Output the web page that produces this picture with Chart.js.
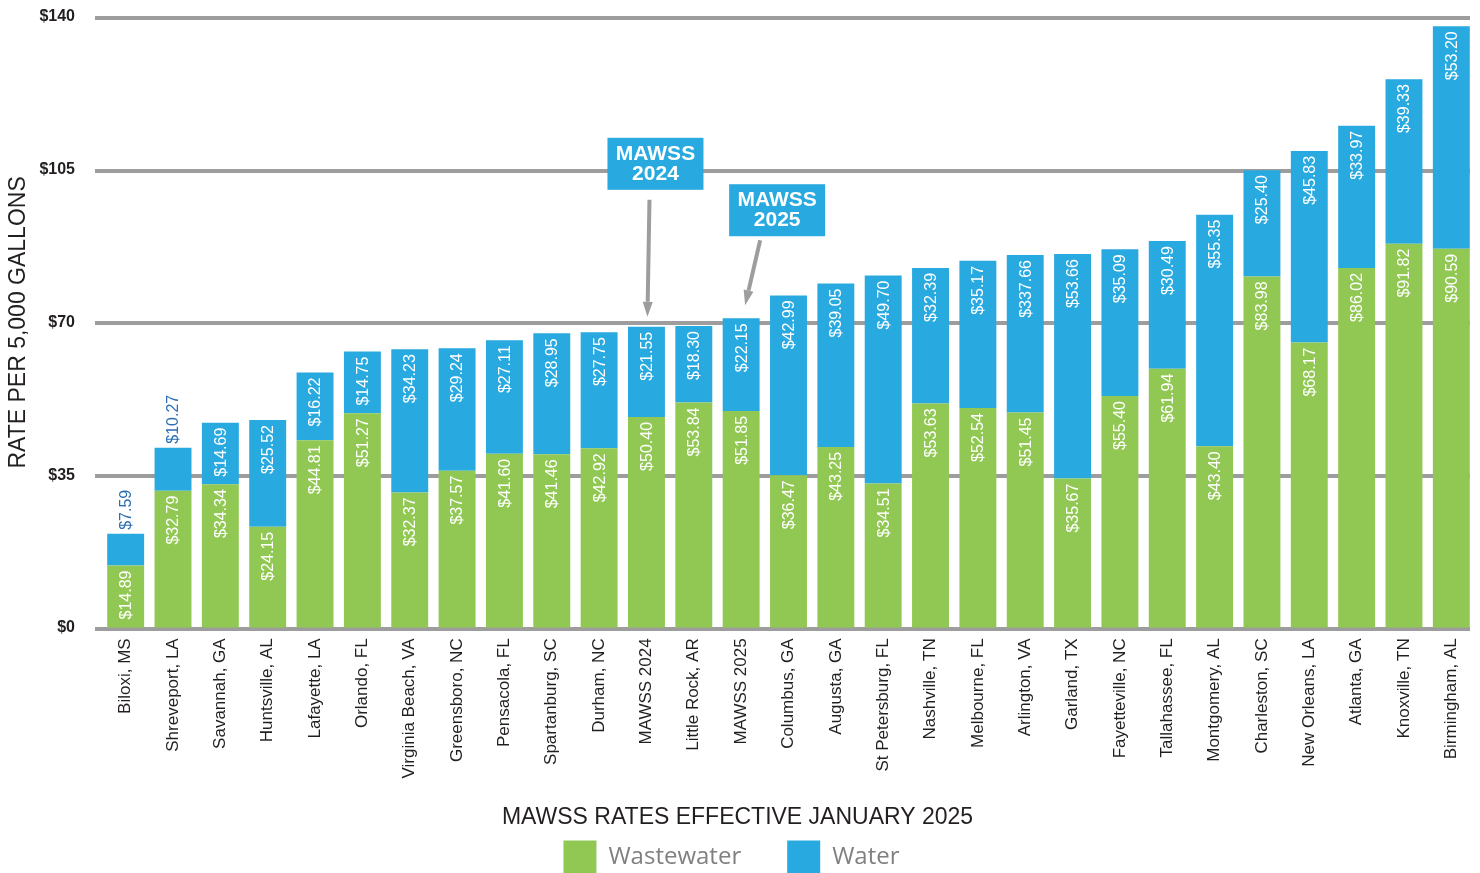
<!DOCTYPE html>
<html>
<head>
<meta charset="utf-8">
<title>MAWSS rates</title>
<script src="https://cdn.jsdelivr.net/npm/chart.js@4.4.1/dist/chart.umd.min.js"></script>
<style>
  html, body { margin: 0; padding: 0; background: #fff; }
  #wrap { width: 1480px; height: 873px; position: relative; }
</style>
</head>
<body>
<div id="wrap"><canvas id="ratesChart"></canvas></div>
<script>
const cities = [
    "Biloxi, MS", "Shreveport, LA", "Savannah, GA", "Huntsville, AL", "Lafayette, LA",
    "Orlando, FL", "Virginia Beach, VA", "Greensboro, NC", "Pensacola, FL", "Spartanburg, SC",
    "Durham, NC", "MAWSS 2024", "Little Rock, AR", "MAWSS 2025", "Columbus, GA",
    "Augusta, GA", "St Petersburg, FL", "Nashville, TN", "Melbourne, FL", "Arlington, VA",
    "Garland, TX", "Fayetteville, NC", "Tallahassee, FL", "Montgomery, AL", "Charleston, SC",
    "New Orleans, LA", "Atlanta, GA", "Knoxville, TN", "Birmingham, AL"
];
const wastewater = [
    14.89, 32.79, 34.34, 24.15, 44.81, 51.27, 32.37, 37.57, 41.60, 41.46,
    42.92, 50.40, 53.84, 51.85, 36.47, 43.25, 34.51, 53.63, 52.54, 51.45,
    35.67, 55.40, 61.94, 43.40, 83.98, 68.17, 86.02, 91.82, 90.59
];
const water = [
    7.59, 10.27, 14.69, 25.52, 16.22, 14.75, 34.23, 29.24, 27.11, 28.95,
    27.75, 21.55, 18.30, 22.15, 42.99, 39.05, 49.70, 32.39, 35.17, 37.66,
    53.66, 35.09, 30.49, 55.35, 25.40, 45.83, 33.97, 39.33, 53.20
];
// the printed y axis: labels every $35, but the source draws the grid a bit stretched
const tickLabels = ["$0", "$35", "$70", "$105", "$140"];
const gridStep = 36.5;
const callouts = [
    { city: "MAWSS 2024", text: ["MAWSS", "2024"] },
    { city: "MAWSS 2025", text: ["MAWSS", "2025"] }
];

const money = v => "$" + v.toFixed(2);
const wastewaterText = wastewater.map(money);
const waterText = water.map(money);
waterText[cities.indexOf("Arlington, VA")] = "$337.66"; // as printed in the source

const GREEN = "#91c853";
const BLUE = "#28a9e0";
const GRID = "#9d9d9d";
const INK = "#231f20";

Chart.defaults.font.family = '"Liberation Sans", Arial, sans-serif';
Chart.defaults.color = INK;

// thick horizontal rules, slightly wider than the bar band
const gridRules = {
    id: "gridRules",
    beforeDatasetsDraw(chart) {
        const { ctx, chartArea, scales } = chart;
        ctx.save();
        ctx.strokeStyle = GRID;
        ctx.lineWidth = 4;
        scales.y.ticks.forEach(t => {
            const y = Math.round(scales.y.getPixelForValue(t.value)) + 1;
            ctx.beginPath();
            ctx.moveTo(chartArea.left - 7, y);
            ctx.lineTo(chartArea.right - 5, y);
            ctx.stroke();
        });
        ctx.restore();
    }
};

// rotated value labels at the top of every segment
const valueLabels = {
    id: "valueLabels",
    afterDatasetsDraw(chart) {
        const ctx = chart.ctx;
        ctx.save();
        ctx.font = '16px "Liberation Sans", Arial, sans-serif';
        ctx.textBaseline = "middle";
        chart.data.datasets.forEach((ds, di) => {
            chart.getDatasetMeta(di).data.forEach((bar, i) => {
                const text = ds.valueText[i];
                const w = ctx.measureText(text).width;
                const inside = (bar.base - bar.y) > w + 8;
                ctx.save();
                ctx.translate(bar.x, inside ? bar.y + 5 : bar.y - 4);
                ctx.rotate(-Math.PI / 2);
                ctx.textAlign = inside ? "right" : "left";
                ctx.fillStyle = inside ? "#ffffff" : "#2c6fb4";
                ctx.fillText(text, 0, 1);
                ctx.restore();
            });
        });
        ctx.restore();
    }
};

// MAWSS call-out boxes with arrows
const calloutLayout = [
    { dx: 9, lift: 137, tail: [3, 10], tip: [1, 10] },
    { dx: 36, lift: 82, tail: [19, 4], tip: [4, 13] }
];
const calloutBoxes = {
    id: "calloutBoxes",
    afterDatasetsDraw(chart) {
        const { ctx, scales } = chart;
        ctx.save();
        callouts.forEach((c, k) => {
            const lay = calloutLayout[k];
            const i = cities.indexOf(c.city);
            const x = scales.x.getPixelForValue(i);
            const top = scales.y.getPixelForValue(wastewater[i] + water[i]);
            const bw = 96, bh = 52;
            const boxBottom = top - lay.lift;
            const bx = x + lay.dx - bw / 2;
            ctx.fillStyle = BLUE;
            ctx.fillRect(bx, boxBottom - bh, bw, bh);
            ctx.fillStyle = "#ffffff";
            ctx.font = 'bold 21px "Liberation Sans", Arial, sans-serif';
            ctx.textAlign = "center";
            ctx.textBaseline = "middle";
            ctx.fillText(c.text[0], x + lay.dx, boxBottom - bh + 16);
            ctx.fillText(c.text[1], x + lay.dx, boxBottom - bh + 36);

            // arrow
            const x0 = x + lay.tail[0], y0 = boxBottom + lay.tail[1];
            const x1 = x + lay.tip[0], y1 = top - lay.tip[1];
            const ang = Math.atan2(y1 - y0, x1 - x0);
            const headLen = 15, headW = 5;
            const hx = x1 - headLen * Math.cos(ang), hy = y1 - headLen * Math.sin(ang);
            ctx.strokeStyle = GRID;
            ctx.fillStyle = GRID;
            ctx.lineWidth = 4;
            ctx.beginPath();
            ctx.moveTo(x0, y0);
            ctx.lineTo(hx, hy);
            ctx.stroke();
            ctx.beginPath();
            ctx.moveTo(x1, y1);
            ctx.lineTo(hx + headW * Math.sin(ang), hy - headW * Math.cos(ang));
            ctx.lineTo(hx - headW * Math.sin(ang), hy + headW * Math.cos(ang));
            ctx.closePath();
            ctx.fill();
        });
        ctx.restore();
    }
};

document.addEventListener("DOMContentLoaded", function () {
    const ctx = document.getElementById("ratesChart").getContext("2d");

    new Chart(ctx, {
        type: "bar",
        data: {
            labels: cities,
            datasets: [
                {
                    label: "Wastewater\u2003\u2002",
                    data: wastewater,
                    valueText: wastewaterText,
                    backgroundColor: GREEN,
                    borderWidth: 0
                },
                {
                    label: "Water\u2002",
                    data: water,
                    valueText: waterText,
                    backgroundColor: BLUE,
                    borderWidth: 0
                }
            ]
        },
        options: {
            responsive: true,
            maintainAspectRatio: false,
            animation: false,
            datasets: { bar: { barPercentage: 0.78, categoryPercentage: 1 } },
            layout: { padding: { top: 17, right: 5, left: 0, bottom: 0 } },
            scales: {
                x: {
                    stacked: true,
                    grid: { display: false, drawTicks: false },
                    border: { display: false },
                    afterFit: scale => {
                        scale.paddingLeft = 0;
                        scale.paddingRight = 0;
                    },
                    ticks: {
                        autoSkip: false,
                        minRotation: 90,
                        maxRotation: 90,
                        padding: 10.5,
                        color: INK,
                        font: { size: 17 }
                    }
                },
                y: {
                    stacked: true,
                    min: 0,
                    max: gridStep * (tickLabels.length - 1),
                    afterBuildTicks: scale => {
                        scale.ticks = tickLabels.map((_, i) => ({ value: i * gridStep }));
                    },
                    afterFit: scale => {
                        scale.width = 102;
                        scale.paddingTop = 0;
                        scale.paddingBottom = 0;
                    },
                    grid: { display: false, drawTicks: false },
                    border: { display: false },
                    ticks: {
                        padding: 27,
                        color: INK,
                        font: { size: 16, weight: "bold" },
                        callback: (value, index) => tickLabels[index]
                    },
                    title: {
                        display: true,
                        text: "RATE PER 5,000 GALLONS",
                        color: INK,
                        font: { size: 23 },
                        padding: { top: 5, bottom: 0 }
                    }
                }
            },
            plugins: {
                legend: {
                    display: true,
                    position: "bottom",
                    maxHeight: 84,
                    title: {
                        display: true,
                        text: "MAWSS RATES EFFECTIVE JANUARY 2025",
                        color: INK,
                        font: { size: 23 },
                        padding: { top: 17, bottom: -3 }
                    },
                    labels: {
                        boxWidth: 33,
                        boxHeight: 33,
                        padding: 10,
                        color: "#808080",
                        font: { family: '"Open Sans", sans-serif', size: 24 }
                    }
                },
                tooltip: { enabled: false }
            }
        },
        plugins: [gridRules, valueLabels, calloutBoxes]
    });
});
</script>
</body>
</html>
